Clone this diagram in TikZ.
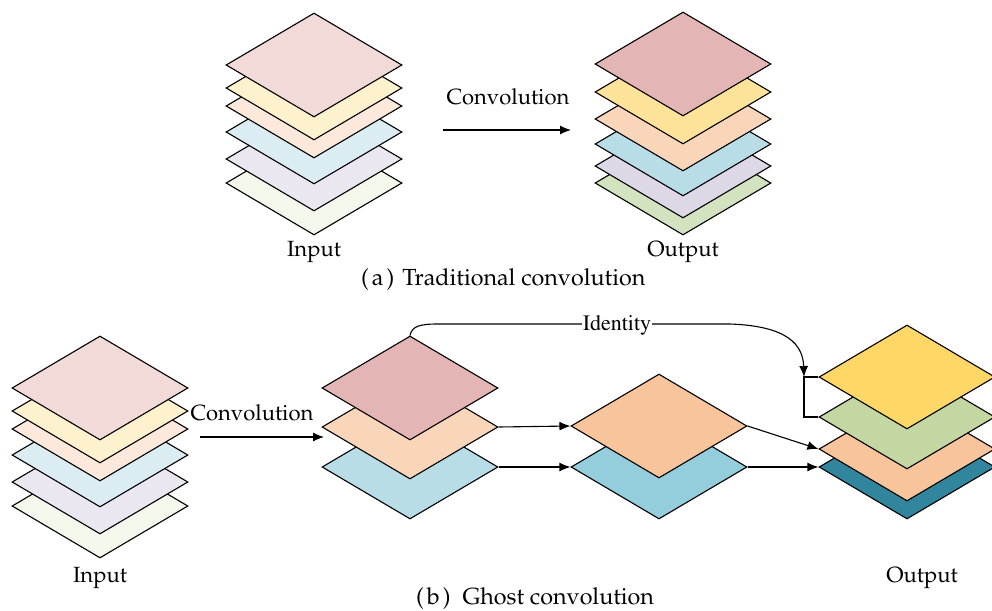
\documentclass[tikz,border=0pt]{standalone}
\usepackage[T1]{fontenc}
\usepackage{mathpazo}
\usetikzlibrary{shapes.geometric,arrows.meta}

% layer fills
\definecolor{inPink}{HTML}{F2DAD9}
\definecolor{inYellow}{HTML}{FEF1CE}
\definecolor{inPeach}{HTML}{FDE9DB}
\definecolor{inBlue}{HTML}{DBEDF3}
\definecolor{inLav}{HTML}{EBE7F1}
\definecolor{inGreen}{HTML}{F4F7EC}
\definecolor{outPink}{HTML}{E3B6B5}
\definecolor{outYellow}{HTML}{FDE29A}
\definecolor{outPeach}{HTML}{F9D6B9}
\definecolor{outBlue}{HTML}{B8DDE7}
\definecolor{outLav}{HTML}{DDD7E6}
\definecolor{outGreen}{HTML}{D4E3BF}
\definecolor{ghPeach}{HTML}{F8C49B}
\definecolor{ghBlue}{HTML}{94CDDB}
\definecolor{ghYellow}{HTML}{FED766}
\definecolor{ghGreen}{HTML}{C4D6A1}
\definecolor{ghTeal}{HTML}{31859C}

\tikzset{
  layer/.style={diamond, draw=black, line width=1.1pt, inner sep=0pt,
    minimum width=176pt, minimum height=104pt, aspect=1.69, fill=#1},
  lbl/.style={inner sep=1pt, font=\fontsize{22}{26}\selectfont},
  captext/.style={inner sep=0pt, anchor=west, font=\fontsize{23.3}{27}\selectfont},
  arr/.style={line width=1.1pt, -{Latex[length=11pt,width=9pt]}},
  conn/.style={line width=1.1pt}
}

\begin{document}
\begin{tikzpicture}[x=1pt,y=-1pt]
\useasboundingbox (0,0) rectangle (992,610);

% ---------- (a) traditional convolution ----------
\node[layer=inGreen]  (ai6) at (314,183) {};
\node[layer=inLav]    (ai5) at (314,159) {};
\node[layer=inBlue]   (ai4) at (314,132) {};
\node[layer=inPeach]  (ai3) at (314,106) {};
\node[layer=inYellow] (ai2) at (314,88) {};
\node[layer=inPink]   (ai1) at (314,65) {};

\node[layer=outGreen]  (ao6) at (683,183) {};
\node[layer=outLav]    (ao5) at (683,166) {};
\node[layer=outBlue]   (ao4) at (683,144) {};
\node[layer=outPeach]  (ao3) at (683,119) {};
\node[layer=outYellow] (ao2) at (683,92) {};
\node[layer=outPink]   (ao1) at (683,64) {};

\node[lbl] (aconv) at (508,97) {Convolution};
\coordinate (aa1) at (443,130);
\coordinate (aa2) at (571,130);
\draw[arr] (aa1) -- (aa2);

\node[lbl] (ain) at (314,252) {Input};
\node[lbl] (aout) at (683,252) {Output};
\node[captext] (acap) at (361,280) {(\kern3pt a\kern3pt)\hspace{8pt}Traditional convolution};

% ---------- (b) ghost convolution ----------
\node[layer=inGreen]  (bi6) at (100,506) {};
\node[layer=inLav]    (bi5) at (100,482) {};
\node[layer=inBlue]   (bi4) at (100,455) {};
\node[layer=inPeach]  (bi3) at (100,429) {};
\node[layer=inYellow] (bi2) at (100,411) {};
\node[layer=inPink]   (bi1) at (100,388) {};

\node[lbl] (bconv) at (252,413) {Convolution};
\coordinate (ba1) at (200,437);
\coordinate (ba2) at (324,437);
\draw[arr] (ba1) -- (ba2);

% intrinsic feature maps
\node[layer=outBlue]  (m3) at (410,467) {};
\node[layer=outPeach] (m2) at (410,427) {};
\node[layer=outPink]  (m1) at (410,388) {};

% cheap operations
\node[layer=ghBlue]  (g2) at (659,467) {};
\node[layer=ghPeach] (g1) at (659,426) {};

% concatenated output
\node[layer=ghTeal]   (o4) at (907,467) {};
\node[layer=ghPeach]  (o3) at (907,449) {};
\node[layer=ghGreen]  (o2) at (907,417) {};
\node[layer=ghYellow] (o1) at (907,377) {};

\draw[arr] (m2.east) -- (g1.west);
\draw[arr] (m3.east) -- (g2.west);
\draw[arr] (g1.east) -- (o3.west);
\draw[arr] (g2.east) -- (o4.west);

% identity branch bracket
\coordinate (br) at (804,377);
\draw[conn] (o1.west) -- (br) -- (br |- o2.west) -- (o2.west);
\draw[arr] (m1.north) .. controls (412,326) and (420,324) .. (438,324)
  -- (730,324) .. controls (788,326) and (803,345) .. (br);
\node[fill=white, inner sep=1pt, font=\fontfamily{ptm}\selectfont\fontsize{22}{25}\selectfont] (idn) at (617,325) {Identity};

\node[lbl] (bin) at (100,578) {Input};
\node[lbl] (bout) at (922,578) {Output};
\node[captext] (bcap) at (416,599) {(\kern3pt b\kern3pt)\hspace{12pt}Ghost convolution};
\end{tikzpicture}
\end{document}
